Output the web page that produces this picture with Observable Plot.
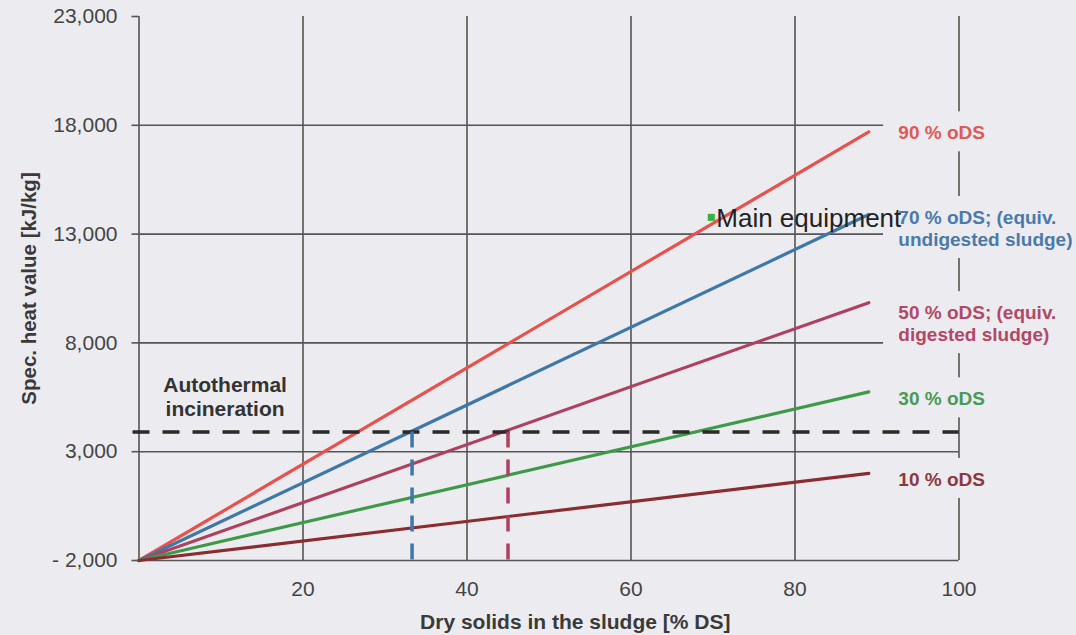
<!DOCTYPE html>
<html>
<head>
<meta charset="utf-8">
<script src="https://cdn.jsdelivr.net/npm/d3@7"></script>
<script src="https://cdn.jsdelivr.net/npm/@observablehq/plot@0.6"></script>
<style>
  html, body { margin: 0; padding: 0; background: #ececf0; }
  #chart { width: 1076px; height: 635px; }
</style>
</head>
<body>
<div id="chart"></div>
<script>
// ---- data ----
const seriesNames = ["90 % oDS", "70 % oDS", "50 % oDS", "30 % oDS", "10 % oDS"];
const seriesLabels = ["90 % oDS", "70 % oDS; (equiv.\nundigested sludge)", "50 % oDS; (equiv.\ndigested sludge)", "30 % oDS", "10 % oDS"];
const startDS = 0;
const startHeat = -2000;
const endDS = 89;
const endHeat = [17700, 13900, 9850, 5750, 2000];
const autothermalHeat = 3900;
const crossingDS = [33.3, 45];          // 70 % and 50 % oDS reach autothermal
const crossingSeries = ["70 % oDS", "50 % oDS"];
const xTicks = [20, 40, 60, 80, 100];
const yTicks = [-2000, 3000, 8000, 13000, 18000, 23000];
const annotationText = "Autothermal\nincineration";
const noteText = "Main equipment";
const notePoint = {ds: 70.4, heat: 13700};

// ---- styles ----
const bg = "#ececf0";
const gridColor = "#555";
const lineColors = ["#e8514d", "#3f77a8", "#b0405f", "#3e9a48", "#8b2c31"];
const labelColors = ["#e05858", "#4a7aab", "#b24866", "#4a9a55", "#8d3840"];
const labelDy = [0, 13, 20, 6, 5];
const font = "Liberation Sans, Arial, Helvetica, sans-serif";

const W = 1076, H = 635;
const mL = 138.5, mR = 117.5, mT = 16, mB = 75;
const unitsPerPx = (23000 - (-2000)) / (H - mT - mB);
const xPerPx = 100 / (W - mL - mR);

// table for lines
const lineData = [];
seriesNames.forEach((s, i) => {
  lineData.push({series: s, ds: startDS, heat: startHeat, order: 0});
  lineData.push({series: s, ds: endDS, heat: endHeat[i], order: 1});
});
const labelData = seriesNames.map((s, i) => ({
  series: s, label: seriesLabels[i], heat: endHeat[i], color: labelColors[i],
  lines: seriesLabels[i].split("\n").length, dy: labelDy[i]
}));
// boxes behind labels (hide grid, like the original label backgrounds)
const boxData = labelData.map(d => {
  const center = d.heat - d.dy * unitsPerPx;
  const half = (d.lines * 11 + 9) * unitsPerPx;
  return {y1: center - half, y2: center + half};
});

const colorScale = {domain: seriesNames, range: lineColors};

const marks = [
  // vertical grid lines
  Plot.ruleX(xTicks.filter(d => d < 100), {y1: -2000, y2: 23000, stroke: gridColor, strokeWidth: 1.6}),
  // horizontal grid lines
  Plot.ruleY(yTicks.filter(d => d > -2000 && d < 23000), {x1: 0, x2: 100, stroke: gridColor, strokeWidth: 1.6}),
  // frame: left, bottom, right
  Plot.ruleX([0], {y1: -2000, y2: 23000, stroke: gridColor, strokeWidth: 1.6}),
  Plot.ruleY([-2000], {x1: 0, x2: 100, stroke: gridColor, strokeWidth: 1.6}),
  Plot.ruleX([100], {y1: -2000, y2: 23000, stroke: gridColor, strokeWidth: 1.6}),
  // label background boxes
  Plot.rect(boxData, {x1: 100 - 9.2, x2: 104, y1: "y1", y2: "y2", fill: bg}),
  // series lines
  Plot.line(lineData, {x: "ds", y: "heat", z: "series", stroke: "series", strokeWidth: 3.2, sort: "order"}),
  // autothermal dashed line
  Plot.ruleY([autothermalHeat], {x1: -6 * xPerPx, x2: 100, stroke: "#2a2a2a", strokeWidth: 3.5, strokeDasharray: "17,13"}),
  // vertical dashed crossings
  Plot.ruleX(crossingDS.map((d, i) => ({ds: d, series: crossingSeries[i]})), {
    x: "ds", y1: autothermalHeat, y2: -2000 - 8 * unitsPerPx, stroke: "series", strokeWidth: 3.5, strokeDasharray: "16,12"
  }),
  // series labels
  ...labelData.map(d => Plot.text([d], {
    x: 100 - 7.4, y: "heat", text: "label", fill: d.color, dy: d.dy,
    textAnchor: "start", lineAnchor: "middle", fontSize: 19, fontWeight: "bold", lineHeight: 1.17
  })),
  // annotation
  Plot.text([{t: annotationText}], {
    x: () => 10.5, y: () => autothermalHeat, text: "t", dy: -35.5, fill: "#333",
    fontSize: 21, fontWeight: "bold", lineHeight: 1.1, lineAnchor: "middle", textAnchor: "middle"
  }),
  // "Main equipment" note
  Plot.dot([notePoint], {x: "ds", y: "heat", dx: -5, dy: -1.5, symbol: "square", r: 4, fill: "#3cb043", stroke: "none"}),
  Plot.text([{...notePoint, t: noteText}], {
    x: "ds", y: "heat", text: "t", dx: 0, fill: "#222", fontSize: 26, textAnchor: "start", lineAnchor: "middle"
  }),
  // axes
  Plot.axisY({ticks: yTicks, tickSize: 7, tickPadding: 14.5, fontSize: 21, stroke: gridColor, strokeWidth: 1.6, color: "#444", fill: "#444",
    tickFormat: d => d < 0 ? "- " + d3.format(",")(-d) : d3.format(",")(d), label: null}),
  Plot.axisX({ticks: xTicks, tickSize: 0, tickPadding: 21, fontSize: 21, fill: "#444", label: null}),
  // axis titles
  Plot.text([{t: "Dry solids in the sludge [% DS]"}], {
    x: () => 53.2, text: "t", frameAnchor: "bottom", dy: 62, fill: "#3a3a3a", fontSize: 21, fontWeight: "bold", lineAnchor: "middle", textAnchor: "middle"
  }),
  Plot.text([{t: "Spec. heat value [kJ/kg]"}], {
    text: "t", frameAnchor: "left", dx: -110, rotate: -90, fill: "#3a3a3a", fontSize: 20.5, fontWeight: "bold", lineAnchor: "middle", textAnchor: "middle"
  })
];

const chart = Plot.plot({
  width: W, height: H,
  marginLeft: mL, marginRight: mR, marginTop: mT, marginBottom: mB,
  x: {domain: [0, 100], axis: null},
  y: {domain: [-2000, 23000], axis: null},
  color: colorScale,
  style: {background: bg, fontFamily: font, overflow: "visible"},
  marks
});
document.getElementById("chart").appendChild(chart);
</script>
</body>
</html>
